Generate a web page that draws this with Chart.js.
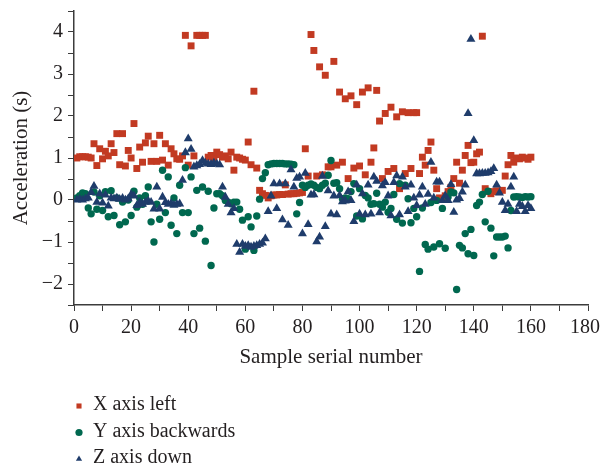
<!DOCTYPE html>
<html>
<head>
<meta charset="utf-8">
<script src="https://cdn.jsdelivr.net/npm/chart.js@4/dist/chart.umd.min.js"></script>
<style>
    html, body { margin: 0; padding: 0; background: #ffffff; }
    #graf-wrap { width: 601px; height: 466px; }
</style>
</head>
<body>
<div id="graf-wrap"><canvas id="graf"></canvas></div>
<script>
/* aflæste værdier, én pr. prøvenummer 1..160 */
const xAxisLeft = [
    1.0, 1.03, 1.03, 1.03, 1.02, 1.0, 1.34, 0.82, 1.22, 0.98,
    1.16, 1.05, 1.34, 1.13, 1.58, 0.84, 1.58, 0.81, 1.18, 1.0,
    1.82, 0.75, 1.26, 0.9, 1.36, 1.52, 0.92, 1.34, 0.92, 1.54,
    0.95, 1.34, 0.83, 1.22, 1.1, 0.98, 0.97, 1.05, 3.92, 0.83,
    3.67, 1.05, 3.92, 3.92, 3.92, 3.92, 1.02, 1.06, 1.0, 1.14,
    1.08, 1.02, 1.05, 0.98, 1.14, 0.71, 1.02, 1.0, 0.97, 0.95,
    1.38, 0.84, 2.59, 0.76, 0.23, 0.15, 0.11, 0.05, 0.1, 0.12,
    0.12, 0.13, 0.13, 0.36, 0.14, 0.15, 0.15, 0.16, 0.17, 0.18,
    1.22, 0.57, 3.94, 3.56, 0.57, 3.17, 0.6, 2.97, 0.79, 0.79,
    3.3, 0.83, 2.57, 0.9, 2.41, 0.51, 2.48, 0.76, 2.27, 0.81,
    2.57, 0.6, 2.67, 0.9, 1.24, 2.61, 1.88, 0.51, 2.06, 0.68,
    2.21, 0.75, 1.98, 0.27, 2.1, 0.63, 2.08, 0.75, 2.08, 2.08,
    0.63, 1.02, 0.83, 1.18, 1.38, 0.71, 0.27, 0.05, 0.03, 0.1,
    0.2, 0.3, 0.51, 0.9, 0.4, 0.71, 1.06, 1.3, 0.89, 0.9,
    1.1, 1.14, 3.9, 0.27, 0.2, 0.15, 0.2, 0.22, 0.2, 0.23,
    0.57, 0.84, 1.06, 0.9, 1.0, 0.98, 1.02, 1.0, 0.97, 1.02
];
const yAxisBackwards = [
    0.05, 0.1, 0.17, 0.15, -0.19, -0.33, 0.19, -0.22, 0.1, -0.25,
    0.2, -0.4, 0.22, -0.37, 0.05, -0.59, -0.05, -0.52, 0.0, -0.37,
    0.21, -0.17, 0.05, -0.1, 0.1, 0.31, -0.52, -1.0, -0.1, -0.46,
    0.71, -0.3, 0.55, -0.6, 0.05, -0.8, 0.35, -0.3, 0.77, -0.3,
    0.55, -0.8, 0.23, -0.67, 0.31, -0.98, 0.21, -1.56, -0.19, 0.15,
    0.15, 0.1, -0.01, -0.05, -0.09, -0.05, -0.05, -0.22, -0.48, -1.17,
    -0.4, -0.64, -1.2, -0.38, 0.02, 0.51, 0.65, 0.84, 0.86, 0.87,
    0.87, 0.87, 0.87, 0.86, 0.86, 0.85, 0.84, -0.33, -0.06, 0.35,
    0.3, 0.35, 0.38, 0.35, 0.3, 0.27, 0.35, 0.4, 0.59, 0.94,
    0.4, 0.41, 0.27, 0.03, 0.05, 0.03, 0.2, 0.39, -0.38, 0.27,
    -0.45, 0.11, 0.05, -0.1, -0.09, 0.16, -0.1, -0.17, -0.05, -0.29,
    -0.2, 0.13, -0.46, 0.39, -0.55, 0.35, 0.03, -0.54, -0.2, -0.4,
    -1.7, -0.19, -1.06, -1.17, -0.06, -1.12, -0.01, -1.04, -0.2, -1.15,
    0.07, 0.19, 0.17, -2.13, -1.08, -1.14, -0.8, -1.28, -0.7, -1.32,
    -0.13, -0.05, 0.13, -0.52, 0.21, -0.67, -1.33, -0.88, -0.88, -0.88,
    -0.86, -1.14, -0.25, 0.07, 0.08, 0.07, 0.06, 0.08, 0.07, 0.08
];
const zAxisDown = [
    0.0, 0.02, 0.0, 0.03, 0.05, 0.18, 0.33, -0.05, 0.15, -0.07,
    0.12, -0.14, 0.05, 0.03, 0.05, 0.02, 0.04, 0.0, 0.03, 0.13,
    0.1, -0.13, -0.05, -0.1, -0.05, -0.02, -0.05, -0.21, 0.31, -0.21,
    0.07, -0.06, -0.1, -0.08, -0.12, -0.1, -0.09, 0.47, 1.13, 1.46,
    1.21, 0.79, 0.82, 0.85, 0.94, 0.88, 0.86, 0.85, 0.88, 0.86,
    0.84, 0.31, 0.07, -0.1, -0.3, -0.2, -1.05, -1.24, -1.05, -1.1,
    -1.08, -1.12, -1.1, -1.08, -1.05, -1.02, -0.92, -0.27, 0.1, 0.39,
    -0.2, 0.39, -0.47, 0.39, -0.6, 0.72, 0.31, 0.52, 0.55, -0.8,
    0.64, -0.58, 0.12, 0.13, -0.99, -0.88, 0.57, -0.63, 0.22, -0.33,
    0.1, -0.35, 0.11, -0.04, -0.02, 0.2, -0.01, -0.51, 0.36, -0.33,
    0.15, -0.35, 0.36, -0.33, 0.55, 0.45, -0.3, 0.34, 0.42, 0.1,
    -0.37, 0.42, 0.58, -0.35, 0.55, 0.31, -0.27, 0.36, 0.05, -0.13,
    0.12, 0.31, -0.1, 0.14, 0.9, 0.05, 0.43, 0.43, -0.01, 0.1,
    -0.01, 0.37, -0.29, 0.0, 0.04, 0.19, 0.36, 2.06, 3.83, 1.42,
    0.63, 0.63, 0.64, 0.64, 0.65, 0.68, 0.75, 0.36, 0.17, -0.05,
    -0.25, -0.1, 0.31, 0.55, -0.27, -0.1, -0.15, -0.27, -0.13, -0.2
];

const serieNavne = ['X axis left', 'Y axis backwards', 'Z axis down'];
const serieFarver = ['#c23a22', '#00684f', '#1f3c6b'];
const xTicks = [0, 20, 40, 60, 80, 100, 120, 140, 160, 180];
const yTicks = [-2, -1, 0, 1, 2, 3, 4];

const skrift = '"Liberation Serif", "DejaVu Serif", serif';
const tekstFarve = '#231f20';
const aksseFarve = '#3c3c3c';

/* parrer prøvenummer (1..n) med værdien */
function tilPunkter(vaerdier) {
    const punkter = [];
    for (let i = 0; i < vaerdier.length; i++) {
        punkter.push({ x: i + 1, y: vaerdier[i] });
    }
    return punkter;
}

/* hovedmærker fra listen plus et mellemmærke midt imellem hver to */
function medMellemmaerker(maerker) {
    const ud = [];
    for (let i = 0; i < maerker.length; i++) {
        ud.push({ value: maerker[i] });
        if (i < maerker.length - 1) ud.push({ value: (maerker[i] + maerker[i + 1]) / 2 });
    }
    return ud;
}

/* legenden står lodret under grafen, så den tegnes her i stedet for Chart.js' vandrette legend */
const lodretLegend = {
    id: 'lodretLegend',
    beforeDraw(chart) {
        /* sidste x-etiket (180) højrestilles, så den holder sig inden for lærredet */
        const items = chart.scales.x.getLabelItems();
        const sidste = items[items.length - 1];
        if (sidste) {
            sidste.options.textAlign = 'right';
            sidste.options.translation[0] = chart.width - 1;
        }
    },
    afterDraw(chart) {
        const ctx = chart.ctx;
        ctx.save();
        ctx.font = '20px ' + skrift;
        ctx.textBaseline = 'middle';
        ctx.textAlign = 'left';
        const datasets = chart.data.datasets;
        for (let i = 0; i < datasets.length; i++) {
            const y = 405 + i * 26.5;
            ctx.fillStyle = datasets[i].backgroundColor;
            Chart.helpers.drawPoint(ctx, {
                pointStyle: datasets[i].pointStyle,
                radius: 3.6,
                rotation: 0,
                borderWidth: 0
            }, 79, y + 1);
            ctx.fillStyle = tekstFarve;
            ctx.fillText(datasets[i].label, 93, y);
        }
        ctx.restore();
    }
};

const former = ['rect', 'circle', 'triangle'];
const radier = [4.9, 3.7, 5.2];
const serier = [xAxisLeft, yAxisBackwards, zAxisDown];

const datasets = [];
for (let i = 0; i < serier.length; i++) {
    datasets.push({
        label: serieNavne[i],
        data: tilPunkter(serier[i]),
        pointStyle: former[i],
        pointRadius: radier[i],
        pointHoverRadius: radier[i],
        backgroundColor: serieFarver[i],
        borderColor: serieFarver[i],
        borderWidth: 0,
        order: 3 - i
    });
}

new Chart(document.getElementById('graf'), {
    type: 'scatter',
    data: { datasets: datasets },
    options: {
        responsive: true,
        maintainAspectRatio: false,
        animation: false,
        layout: { padding: { left: 0, right: 13, top: 11, bottom: 96 } },
        plugins: {
            legend: { display: false },
            tooltip: { enabled: false }
        },
        scales: {
            x: {
                type: 'linear',
                min: 0,
                max: 180,
                afterBuildTicks: (s) => { s.ticks = medMellemmaerker(xTicks); },
                afterFit: (s) => { s.height = 65; s.paddingLeft = 0; s.paddingRight = 0; },
                ticks: {
                    color: tekstFarve,
                    font: { family: skrift, size: 20 },
                    padding: 5,
                    maxRotation: 0,
                    autoSkip: false,
                    callback: (v) => (xTicks.includes(v) ? String(v) : '')
                },
                grid: {
                    display: true,
                    drawOnChartArea: false,
                    drawTicks: true,
                    tickLength: 6,
                    color: aksseFarve
                },
                border: { display: true, color: aksseFarve, width: 1.5 },
                title: {
                    display: true,
                    text: 'Sample serial number',
                    color: tekstFarve,
                    font: { family: skrift, size: 21 },
                    padding: { top: 4, bottom: 0 }
                }
            },
            y: {
                type: 'linear',
                min: -2.5,
                max: 4.5,
                afterBuildTicks: (s) => {
                    const maerker = medMellemmaerker(yTicks);
                    maerker.unshift({ value: -2.5 });
                    maerker.push({ value: 4.5 });
                    s.ticks = maerker;
                },
                afterFit: (s) => { s.width = 74; s.paddingTop = 0; s.paddingBottom = 0; },
                ticks: {
                    color: tekstFarve,
                    font: { family: skrift, size: 20 },
                    padding: 5,
                    autoSkip: false,
                    callback: (v) => {
                        if (!yTicks.includes(v)) return '';
                        return v < 0 ? '\u2212' + Math.abs(v) : String(v);
                    }
                },
                grid: {
                    display: true,
                    drawOnChartArea: false,
                    drawTicks: true,
                    tickLength: 6,
                    color: aksseFarve
                },
                border: { display: true, color: aksseFarve, width: 1.5 },
                title: {
                    display: true,
                    text: 'Acceleration (s)',
                    color: tekstFarve,
                    font: { family: skrift, size: 21 },
                    padding: { top: 9, bottom: 0 }
                }
            }
        }
    },
    plugins: [lodretLegend]
});
</script>
</body>
</html>
